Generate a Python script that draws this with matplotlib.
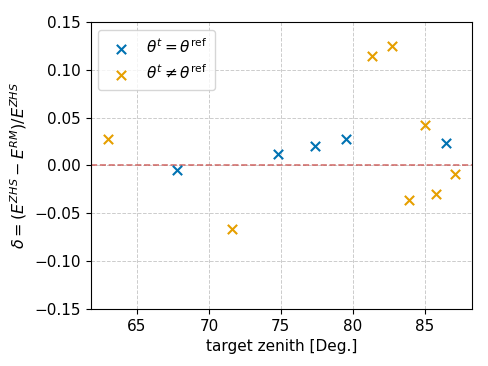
import matplotlib
matplotlib.use("Agg")
import matplotlib.pyplot as plt

# theta^t == theta^ref
zen_same = [67.8, 74.8, 77.4, 79.5, 86.5]
delta_same = [-0.005, 0.012, 0.020, 0.028, 0.023]

# theta^t != theta^ref
zen_diff = [63.0, 71.6, 81.3, 82.7, 83.9, 85.0, 85.8, 87.1]
delta_diff = [0.028, -0.066, 0.114, 0.125, -0.036, 0.042, -0.030, -0.009]

fig = plt.figure(figsize=(4.88, 3.66), dpi=100)
ax = fig.add_axes([0.186, 0.156, 0.782, 0.784])

ax.scatter(zen_same, delta_same, marker='x', c='#0072B2', s=45, linewidths=1.5,
           label=r'$\theta^t = \theta^{\rm ref}$', zorder=3)
ax.scatter(zen_diff, delta_diff, marker='x', c='#E69F00', s=45, linewidths=1.5,
           label=r'$\theta^t \neq \theta^{\rm ref}$', zorder=3)
ax.axhline(0, color='#c9504d', ls='--', lw=1.2, alpha=0.8)

ax.set_ylim(-0.15, 0.15)
ax.set_yticks([-0.15, -0.10, -0.05, 0.0, 0.05, 0.10, 0.15])
ax.grid(True, ls='--', color='#cccccc', lw=0.7)
ax.set_axisbelow(True)
ax.tick_params(labelsize=11)
ax.set_xlabel('target zenith [Deg.]', fontsize=11)
ax.set_ylabel(r'$\delta = (E^{ZHS} - E^{RM})/E^{ZHS}$', fontsize=11.5)
ax.legend(loc='upper left', fontsize=11, handletextpad=0.6, borderpad=0.5)

fig.savefig('out.png', dpi=100)
